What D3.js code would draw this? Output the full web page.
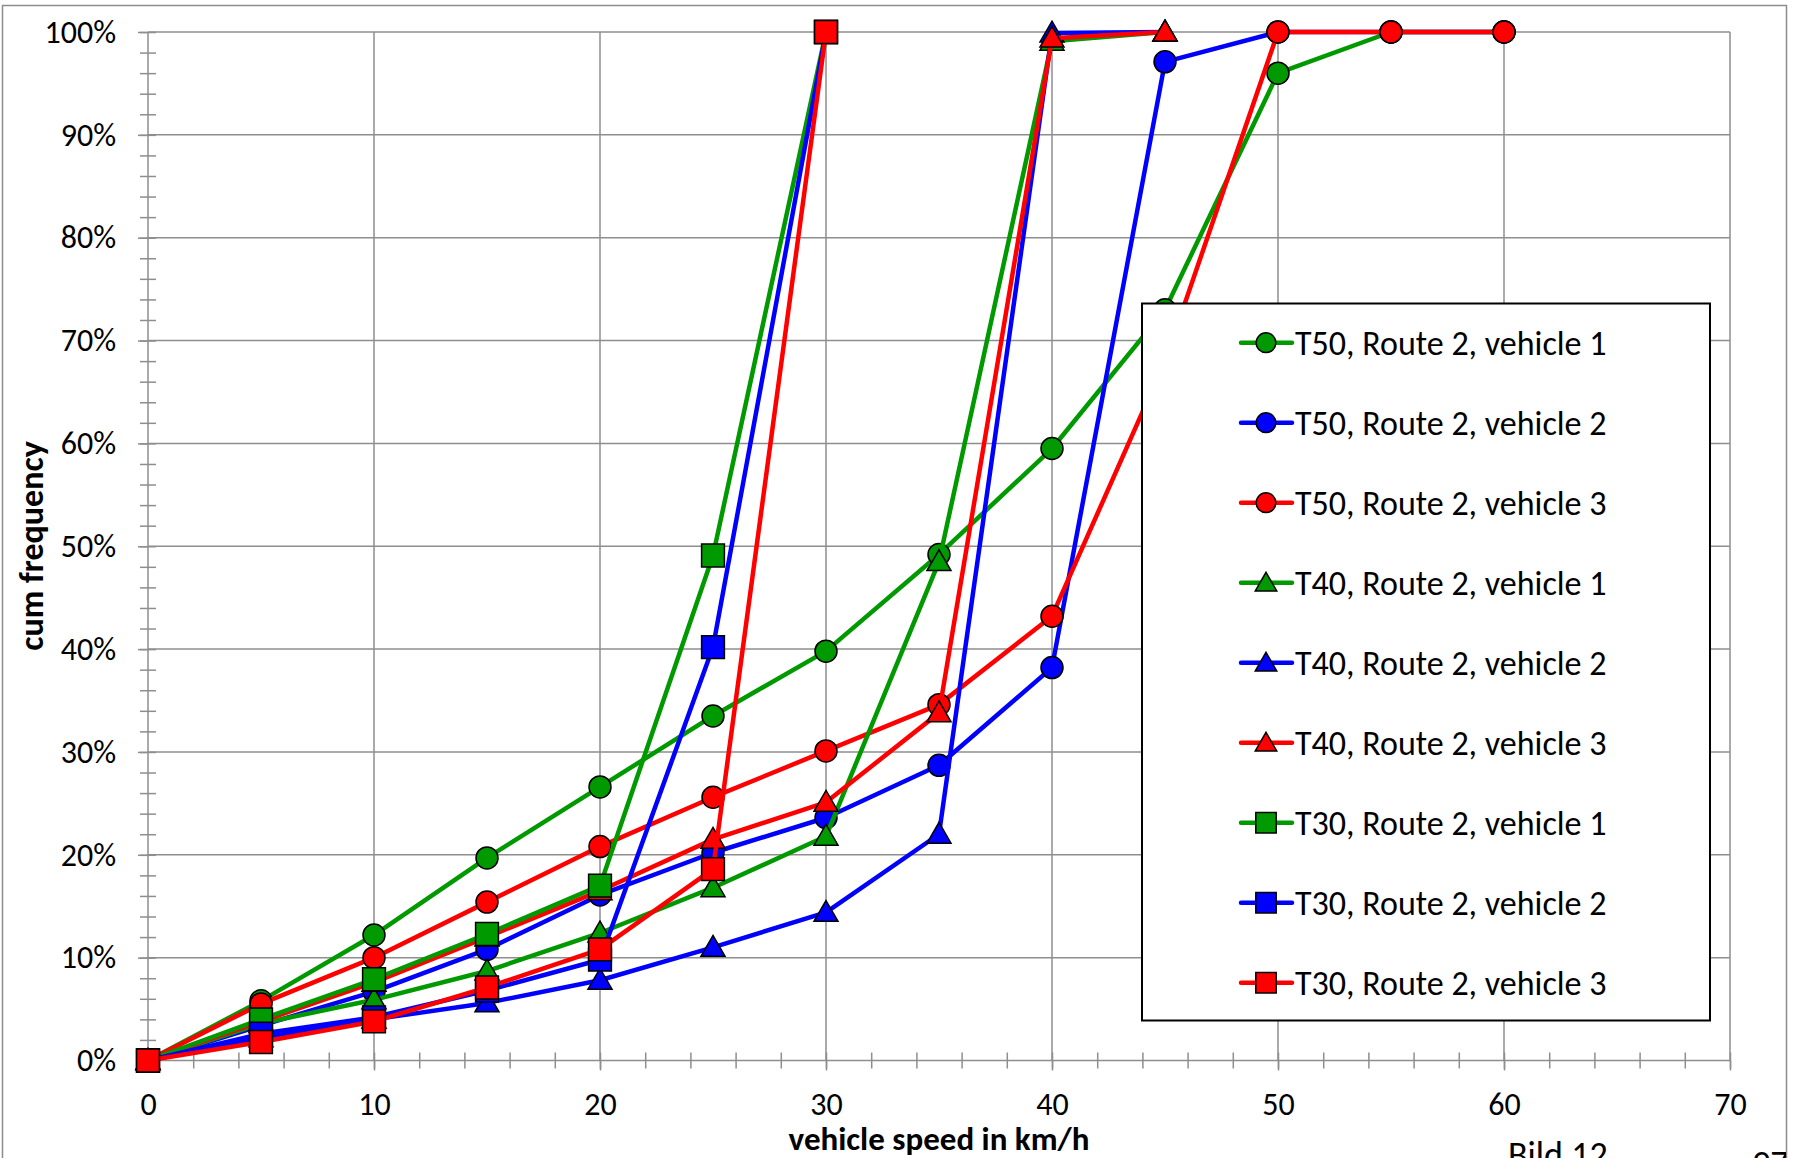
<!DOCTYPE html>
<html>
<head>
<meta charset="utf-8">
<script src="https://cdn.jsdelivr.net/npm/d3@7"></script>
<style>
  html, body { margin: 0; padding: 0; background: #fff; overflow: hidden; }
  svg text { font-family: Carlito, Calibri, Lato, sans-serif; fill: #000; }
</style>
</head>
<body>
<div id="container"></div>
<script>
// speeds (km/h) for each group of series
const speedT50 = [0, 5, 10, 15, 20, 25, 30, 35, 40, 45, 50, 55, 60];
const speedT40 = [0, 5, 10, 15, 20, 25, 30, 35, 40, 45];
const speedT30 = [0, 5, 10, 15, 20, 25, 30];

// cumulative frequency in %
const t50v1 = [0, 5.8, 12.2, 19.7, 26.6, 33.5, 39.8, 49.2, 59.5, 73.0, 96.0, 100, 100];
const t50v2 = [0, 3.4, 6.7, 10.8, 16.1, 20.2, 23.6, 28.7, 38.2, 97.1, 100, 100, 100];
const t50v3 = [0, 5.5, 10.0, 15.4, 20.8, 25.6, 30.1, 34.6, 43.2, 68.0, 100, 100, 100];
const t40v1 = [0, 3.6, 5.9, 8.7, 12.4, 16.8, 21.8, 48.5, 99.1, 100];
const t40v2 = [0, 2.2, 4.0, 5.6, 7.8, 11.0, 14.4, 22.0, 99.9, 100];
const t40v3 = [0, 3.8, 7.6, 12.0, 16.5, 21.5, 25.1, 33.8, 99.4, 100];
const t30v1 = [0, 4.0, 7.9, 12.3, 17.0, 49.1, 100];
const t30v2 = [0, 2.6, 4.2, 6.8, 9.8, 40.2, 100];
const t30v3 = [0, 1.8, 3.8, 7.1, 10.8, 18.6, 100];

const seriesNames = [
    "T50, Route 2, vehicle 1", "T50, Route 2, vehicle 2", "T50, Route 2, vehicle 3",
    "T40, Route 2, vehicle 1", "T40, Route 2, vehicle 2", "T40, Route 2, vehicle 3",
    "T30, Route 2, vehicle 1", "T30, Route 2, vehicle 2", "T30, Route 2, vehicle 3"
];
const seriesSpeeds = [speedT50, speedT50, speedT50, speedT40, speedT40, speedT40, speedT30, speedT30, speedT30];
const seriesValues = [t50v1, t50v2, t50v3, t40v1, t40v2, t40v3, t30v1, t30v2, t30v3];

const xTicks = [0, 10, 20, 30, 40, 50, 60, 70];
const yTicks = [0, 10, 20, 30, 40, 50, 60, 70, 80, 90, 100];

const xTitle = "vehicle speed in km/h";
const yTitle = "cum frequency";

const width = 1796;
const height = 1158;

const green = "#009900", blue = "#0000ff", red = "#ff0000";
const colors = [green, blue, red, green, blue, red, green, blue, red];
const shapes = ["circle", "circle", "circle", "triangle", "triangle", "triangle", "square", "square", "square"];

const x = d3.scaleLinear([0, 70], [148, 1730]);
const y = d3.scaleLinear([0, 100], [1060.5, 32]);

const svg = d3.create("svg")
    .attr("width", width)
    .attr("height", height)
    .attr("viewBox", [0, 0, width, height]);

// outer chart frame
svg.append("rect")
    .attr("x", 2.5).attr("y", 5.5)
    .attr("width", 1784).attr("height", 1220)
    .attr("fill", "none")
    .attr("stroke", "#8c8c8c")
    .attr("stroke-width", 1.5);

const gridColor = "#8e8e8e";

// gridlines
svg.append("g")
    .selectAll("line")
    .data(yTicks.slice(1))
    .join("line")
    .attr("x1", x(0)).attr("x2", x(70))
    .attr("y1", d => y(d)).attr("y2", d => y(d))
    .attr("stroke", gridColor).attr("stroke-width", 1.5);

svg.append("g")
    .selectAll("line")
    .data(xTicks.slice(1))
    .join("line")
    .attr("x1", d => x(d)).attr("x2", d => x(d))
    .attr("y1", y(0)).attr("y2", y(100))
    .attr("stroke", gridColor).attr("stroke-width", 1.5);

// x axis: minor ticks cross the axis, major ticks point down
svg.append("g")
    .attr("transform", `translate(0,${y(0)})`)
    .call(d3.axisBottom(x).tickValues(d3.range(0, 71, 2)).tickSize(8).tickFormat(""))
    .call(g => g.selectAll(".tick line").attr("y1", -8).attr("stroke", gridColor).attr("stroke-width", 1.5))
    .call(g => g.select(".domain").attr("stroke", gridColor).attr("stroke-width", 1.5).attr("d", `M${x(0)},0H${x(70)}`));

svg.append("g")
    .attr("transform", `translate(0,${y(0)})`)
    .call(d3.axisBottom(x).tickValues(xTicks).tickSize(10).tickPadding(22))
    .call(g => g.select(".domain").remove())
    .call(g => g.selectAll(".tick line").attr("stroke", gridColor).attr("stroke-width", 1.5))
    .call(g => g.selectAll(".tick text")
        .attr("font-size", 32)
        .attr("font-family", null)
        .attr("fill", "#000"));

// y axis
svg.append("g")
    .attr("transform", `translate(${x(0)},0)`)
    .call(d3.axisLeft(y).tickValues(d3.range(0, 101, 2)).tickSize(8).tickFormat(""))
    .call(g => g.selectAll(".tick line").attr("x1", 8).attr("stroke", gridColor).attr("stroke-width", 1.5))
    .call(g => g.select(".domain").attr("stroke", gridColor).attr("stroke-width", 1.5).attr("d", `M0,${y(0)}V${y(100)}`));

svg.append("g")
    .attr("transform", `translate(${x(0)},0)`)
    .call(d3.axisLeft(y).tickValues(yTicks).tickSize(10).tickPadding(22).tickFormat(d => d + "%"))
    .call(g => g.select(".domain").remove())
    .call(g => g.selectAll(".tick line").attr("stroke", gridColor).attr("stroke-width", 1.5))
    .call(g => g.selectAll(".tick text")
        .attr("font-size", 32)
        .attr("font-family", null)
        .attr("fill", "#000"));

// axis titles
svg.append("text")
    .attr("x", 939).attr("y", 1150)
    .attr("text-anchor", "middle")
    .attr("font-size", 33)
    .attr("font-weight", "bold")
    .text(xTitle);

svg.append("text")
    .attr("transform", "translate(31,546) rotate(-90)")
    .attr("text-anchor", "middle")
    .attr("dy", "0.35em")
    .attr("font-size", 34)
    .attr("font-weight", "bold")
    .text(yTitle);

// markers
function markerPath(shape, scale) {
    if (shape === "circle") return d3.symbol(d3.symbolCircle, 380 * scale)();
    if (shape === "square") return d3.symbol(d3.symbolSquare, 520 * scale)();
    return d3.symbol(d3.symbolTriangle, 250 * scale)();
}

const line = d3.line().x(d => x(d[0])).y(d => y(d[1]));

seriesNames.forEach((name, i) => {
    const pts = seriesSpeeds[i].map((s, j) => [s, seriesValues[i][j]]);
    const g = svg.append("g");
    g.append("path")
        .attr("fill", "none")
        .attr("stroke", colors[i])
        .attr("stroke-width", 4.5)
        .attr("stroke-linejoin", "round")
        .attr("d", line(pts));
    g.selectAll("path.m")
        .data(pts)
        .join("path")
        .attr("class", "m")
        .attr("transform", d => `translate(${x(d[0])},${y(d[1]) + (shapes[i] === "triangle" ? 2 : 0)})`)
        .attr("d", markerPath(shapes[i], 1))
        .attr("fill", colors[i])
        .attr("stroke", "#000")
        .attr("stroke-width", 1.5);
});

// legend
const legend = svg.append("g");
legend.append("rect")
    .attr("x", 1142).attr("y", 303.5)
    .attr("width", 568).attr("height", 717)
    .attr("fill", "#fff")
    .attr("stroke", "#000")
    .attr("stroke-width", 2);

seriesNames.forEach((name, i) => {
    const ry = 342.7 + i * 80;
    legend.append("line")
        .attr("x1", 1241).attr("x2", 1292)
        .attr("y1", ry).attr("y2", ry)
        .attr("stroke", colors[i])
        .attr("stroke-width", 4.5)
        .attr("stroke-linecap", "round");
    legend.append("path")
        .attr("transform", `translate(1266,${ry + (shapes[i] === "triangle" ? 2 : 0)})`)
        .attr("d", markerPath(shapes[i], 0.8))
        .attr("fill", colors[i])
        .attr("stroke", "#000")
        .attr("stroke-width", 1.5);
    legend.append("text")
        .attr("x", 1295).attr("y", ry)
        .attr("dy", "0.36em")
        .attr("font-size", 34)
        .text(name);
});

// page text below the chart (cut off at the picture edge, as in the source)
svg.append("text")
    .attr("x", 1508).attr("y", 1167)
    .attr("font-family", "Liberation Sans, Arial, sans-serif")
    .attr("font-size", 36)
    .text("Bild 12");

svg.append("clipPath").attr("id", "pageclip")
    .append("rect").attr("x", 0).attr("y", 0).attr("width", 1786).attr("height", height);

svg.append("text")
    .attr("x", 1752).attr("y", 1176)
    .attr("clip-path", "url(#pageclip)")
    .attr("font-family", "Liberation Sans, Arial, sans-serif")
    .attr("font-size", 36)
    .text("97");

document.getElementById("container").append(svg.node());
</script>
</body>
</html>
